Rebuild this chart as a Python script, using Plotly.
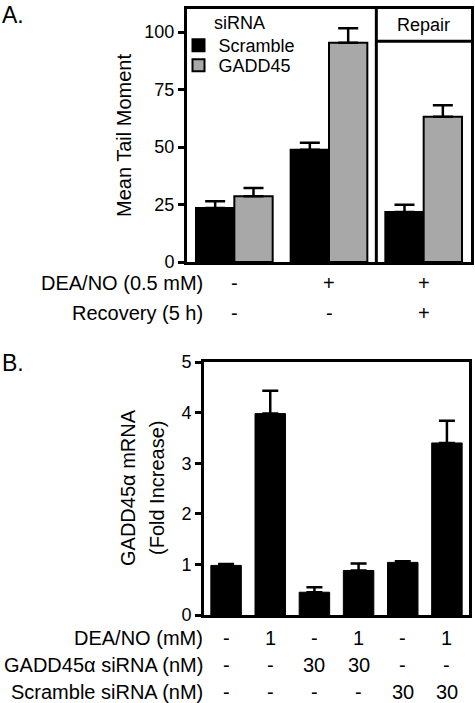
import plotly.graph_objects as go

# ---------------- data ----------------
# Panel A
a_categories = ["Control", "DEA/NO", "Repair"]
a_scramble = [23.5, 48.8, 21.7]
a_scramble_err = [26.4, 51.8, 24.9]      # top of error bar
a_gadd45 = [28.6, 95.3, 63.1]
a_gadd45_err = [32.2, 101.6, 68.2]       # top of error bar
a_row_labels = ["DEA/NO (0.5 mM)", "Recovery (5 h)"]
a_row_values = [["-", "+", "+"], ["-", "-", "+"]]
a_ticks = [0, 25, 50, 75, 100]

# Panel B
b_categories = ["c1", "c2", "c3", "c4", "c5", "c6"]
b_values = [0.98, 3.98, 0.45, 0.88, 1.04, 3.40]
b_err_top = [1.01, 4.43, 0.55, 1.02, 1.06, 3.84]
b_row_labels = ["DEA/NO (mM)", "GADD45\u03b1 siRNA (nM)", "Scramble siRNA (nM)"]
b_row_values = [["-", "1", "-", "1", "-", "1"],
                ["-", "-", "30", "30", "-", "-"],
                ["-", "-", "-", "-", "30", "30"]]
b_ticks = [0, 1, 2, 3, 4, 5]
b_title_lines = ["GADD45\u03b1 mRNA", "(Fold Increase)"]

# ---------------- figure ----------------
W, H = 475, 703
FONT = "Liberation Sans, Arial, sans-serif"


def px_y(p):
    return 1 - p / H


def px_x(p):
    return p / W


fig = go.Figure()

fig.add_trace(go.Bar(
    x=a_categories, y=a_scramble, name="Scramble", legend="legend",
    marker=dict(color="black", line=dict(color="black", width=2)),
    error_y=dict(type="data", symmetric=False,
                 array=[t - v for t, v in zip(a_scramble_err, a_scramble)],
                 arrayminus=[0] * len(a_scramble),
                 color="black", thickness=2.5, width=10),
    xaxis="x", yaxis="y",
))
fig.add_trace(go.Bar(
    x=a_categories, y=a_gadd45, name="GADD45", legend="legend2",
    marker=dict(color="#a8a8a8", line=dict(color="black", width=2)),
    error_y=dict(type="data", symmetric=False,
                 array=[t - v for t, v in zip(a_gadd45_err, a_gadd45)],
                 arrayminus=[0] * len(a_gadd45),
                 color="black", thickness=2.5, width=10),
    xaxis="x", yaxis="y",
))
fig.add_trace(go.Bar(
    x=b_categories, y=b_values, name="GADD45a mRNA", showlegend=False,
    width=0.69,
    marker=dict(color="black", line=dict(color="black", width=1)),
    error_y=dict(type="data", symmetric=False,
                 array=[t - v for t, v in zip(b_err_top, b_values)],
                 arrayminus=[0] * len(b_values),
                 color="black", thickness=2.5, width=8),
    xaxis="x2", yaxis="y2",
))

axis_common = dict(showline=True, linewidth=3, linecolor="black", mirror=True,
                   showgrid=False, zeroline=False, automargin=False)
legend_common = dict(xanchor="left", yanchor="top", bgcolor="rgba(0,0,0,0)",
                     borderwidth=0, font=dict(size=18), itemwidth=30)

fig.update_layout(
    width=W, height=H, autosize=False,
    margin=dict(l=0, r=0, t=0, b=0, pad=0, autoexpand=False),
    paper_bgcolor="white", plot_bgcolor="white",
    font=dict(family=FONT, size=18, color="black"),
    barmode="group", bargap=0.19, bargroupgap=0,
    showlegend=True,
    legend=dict(x=px_x(178.5), y=px_y(27), **legend_common),
    legend2=dict(x=px_x(178.5), y=px_y(47), **legend_common),
    xaxis=dict(domain=[px_x(187), px_x(471)], type="category",
               range=[-0.5, 2.5], showticklabels=False, ticks="",
               anchor="y", **axis_common),
    yaxis=dict(domain=[px_y(262), px_y(9)], range=[0, 110],
               tickvals=a_ticks, ticks="outside", ticklen=6, tickwidth=3,
               tickcolor="black", tickfont=dict(size=18),
               title=dict(text="Mean Tail Moment", font=dict(size=20), standoff=8),
               anchor="x", **axis_common),
    xaxis2=dict(domain=[px_x(204), px_x(469)], type="category",
                range=[-0.5, 5.5], showticklabels=False, ticks="",
                anchor="y2", **axis_common),
    yaxis2=dict(domain=[px_y(615), px_y(362)], range=[0, 5],
                tickvals=b_ticks, ticks="outside", ticklen=6, tickwidth=3,
                tickcolor="black", tickfont=dict(size=18),
                anchor="x2", **axis_common),
)

# legend heading
fig.add_annotation(text="siRNA", xref="paper", yref="paper", x=px_x(212),
                   y=px_y(23), xanchor="left", yanchor="middle",
                   showarrow=False, font=dict(size=18))

# Panel B y-axis title (two lines)
for line, xx in zip(b_title_lines, [128, 157]):
    fig.add_annotation(text=line, xref="paper", yref="paper", x=px_x(xx),
                       y=px_y(488), xanchor="center", yanchor="middle",
                       textangle=-90, showarrow=False, font=dict(size=20))

# Repair separator box in panel A
fig.add_shape(type="line", xref="x", yref="y", x0=1.5, x1=1.5, y0=0, y1=110,
              line=dict(color="black", width=3))
fig.add_shape(type="line", xref="x", yref="y", x0=1.5, x1=2.5, y0=96, y1=96,
              line=dict(color="black", width=3))
fig.add_annotation(text="Repair", xref="x", yref="y", x=2, y=103,
                   showarrow=False, font=dict(size=18))

# Panel labels
fig.add_annotation(text="A.", xref="paper", yref="paper", x=0, y=px_y(15),
                   xanchor="left", yanchor="middle", showarrow=False,
                   font=dict(size=23))
fig.add_annotation(text="B.", xref="paper", yref="paper", x=0, y=px_y(363),
                   xanchor="left", yanchor="middle", showarrow=False,
                   font=dict(size=23))

# Condition rows panel A
a_row_y = [283, 313]
for lab, vals, yy in zip(a_row_labels, a_row_values, a_row_y):
    fig.add_annotation(text=lab, xref="paper", yref="paper", x=px_x(205),
                       y=px_y(yy), xanchor="right", yanchor="middle",
                       showarrow=False, font=dict(size=20))
    for cat, v in zip(a_categories, vals):
        fig.add_annotation(text=v, xref="x", yref="paper", x=cat, y=px_y(yy),
                           xanchor="center", yanchor="middle",
                           showarrow=False, font=dict(size=20))

# Condition rows panel B
b_row_y = [638, 665, 692]
for lab, vals, yy in zip(b_row_labels, b_row_values, b_row_y):
    fig.add_annotation(text=lab, xref="paper", yref="paper", x=px_x(205),
                       y=px_y(yy), xanchor="right", yanchor="middle",
                       showarrow=False, font=dict(size=20))
    for cat, v in zip(b_categories, vals):
        fig.add_annotation(text=v, xref="x2", yref="paper", x=cat, y=px_y(yy),
                           xanchor="center", yanchor="middle",
                           showarrow=False, font=dict(size=20))

fig.write_html("out.html", config={"displayModeBar": False},
               post_script="document.body.style.margin='0';document.body.style.padding='0';")
